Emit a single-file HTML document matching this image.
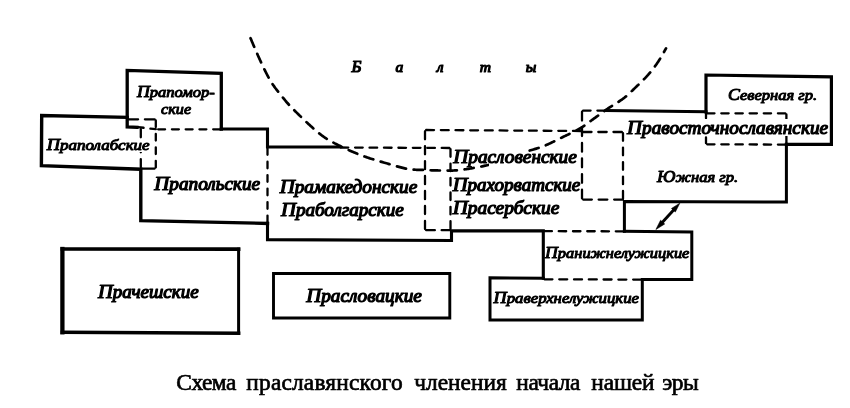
<!DOCTYPE html>
<html lang="ru">
<head>
<meta charset="utf-8">
<title>Схема праславянского членения начала нашей эры</title>
<style>
html,body{margin:0;padding:0;background:#fff;}
body{width:850px;height:408px;overflow:hidden;position:relative;}
svg{position:absolute;left:0;top:0;display:block;filter:grayscale(1);}
.s{fill:none;stroke:#000;stroke-width:3.1;stroke-linejoin:miter;stroke-linecap:square;}
.b{stroke-width:4.1;}
.d{fill:none;stroke:#000;stroke-width:2.3;stroke-linecap:round;stroke-linejoin:round;}
.a{stroke-width:2.7;}
.t{font-family:"Liberation Serif","DejaVu Serif",serif;font-style:italic;font-weight:normal;fill:#000;stroke:#000;stroke-width:1.2px;stroke-linejoin:round;}
.m{stroke-width:1.0px;}
.c{font-family:"Liberation Serif","DejaVu Serif",serif;fill:#000;stroke:#000;stroke-width:0.7px;stroke-linejoin:round;}
</style>
</head>
<body>
<svg width="850" height="408" viewBox="0 0 850 408">

<g>
<g>
<path class="s" d="M137,127.3 L127.2,127 L127.2,70.4 L221.3,73.4 L221.3,129" style="stroke-width:3.3"/>
<path class="s" d="M221.3,129 L267.5,129 L267.5,147 L339.5,147" style="stroke-width:3.1"/>
<path class="s" d="M127.2,117.3 L41.7,115.5 L41.4,165.6 L140.8,169.2 L140.8,220.6 L267.5,223.4" style="stroke-width:3.4"/>
<path class="s" d="M267.5,223.4 L267.5,239.6 L451.5,240.5 L451.5,230.9 L543.3,230.9 L543.3,278.2" style="stroke-width:3.1"/>
<path class="s" d="M543.3,278.2 L490,277.8 L490,319.9 L642.3,319.9 L642.3,279.4 L691.8,279.4 L691.8,232 L624.4,231.3" style="stroke-width:3"/>
<path class="s" d="M624.4,231.3 L624.4,201.4 L786.4,202 L786.4,144.3" style="stroke-width:3"/>
<path class="s" d="M786.4,144.3 L831.4,144.3 L831.4,76.8 L706,75 L706,111.8" style="stroke-width:3.2"/>
<path class="s" d="M706,111.8 L606,110.6" style="stroke-width:3"/>
<path class="s" d="M62.4,249 L62.4,332.3" style="stroke-width:4.3"/>
<path class="s" d="M62.4,249 L238.6,249.2" style="stroke-width:3.7"/>
<path class="s" d="M238.6,249.2 L238.6,333.2" style="stroke-width:3"/>
<path class="s" d="M62.4,332.3 L238.6,333.2" style="stroke-width:3.6"/>
<path class="s" d="M273.5,273.5 L449.8,273.5 L449.8,318 L273.5,318 L273.5,273.5" style="stroke-width:2.9"/>
<path class="d" d="M138.14,127.13L143.62,127.76M150.38,128.54L155.86,129.17M158.15,129.30L165.11,129.30M171.91,129.30L178.87,129.30M185.67,129.30L192.63,129.30M199.43,129.30L206.39,129.30M213.19,129.30L220.15,129.30"/>
<path class="d" d="M128.35,119.30L138.10,119.30M144.90,119.30L154.65,119.30M155.80,120.45L155.80,127.10M155.80,133.90L155.80,140.55M155.80,147.35L155.80,154.00M155.80,160.80L155.80,167.45M154.65,168.60L141.95,168.60"/>
<path class="d" d="M140.80,129.15L140.80,137.35M140.80,144.15L140.80,152.35M140.80,159.15L140.80,167.35"/>
<path class="d" d="M267.50,148.15L267.50,154.83M267.50,161.63L267.50,168.32M267.50,175.12L267.50,181.80M267.50,188.60L267.50,195.28M267.50,202.08L267.50,208.77M267.50,215.57L267.50,222.25"/>
<path class="d" d="M340.65,147.51L348.29,147.54M355.09,147.57L362.73,147.60M369.52,147.64L377.16,147.67M383.96,147.70L391.60,147.73M398.40,147.77L406.04,147.80M412.84,147.83L420.48,147.86M427.27,147.90L434.91,147.93M441.71,147.96L449.35,147.99M450.50,149.15L450.50,156.77M450.50,163.57L450.50,171.18M450.50,177.98L450.50,185.60M450.50,192.40L450.50,200.02M450.50,206.82L450.50,214.43M450.50,221.23L450.50,228.85"/>
<path class="d" d="M580.85,130.99L572.97,130.94M566.17,130.90L558.29,130.85M551.49,130.81L543.60,130.76M536.80,130.71L528.92,130.66M522.12,130.62L514.24,130.57M507.44,130.53L499.56,130.47M492.76,130.43L484.88,130.38M478.08,130.34L470.20,130.29M463.40,130.24L455.51,130.19M448.71,130.15L440.83,130.10M434.03,130.06L426.15,130.01M425.00,131.15L425.00,139.31M425.00,146.11L425.00,154.26M425.00,161.06L425.00,169.22M425.00,176.02L425.00,184.18M425.00,190.98L425.00,199.14M425.00,205.94L425.00,214.09M425.00,220.89L425.00,229.05M426.15,230.20L434.85,230.20M441.65,230.20L450.35,230.20"/>
<path class="d" d="M604.85,110.60L597.40,110.60M590.60,110.60L583.15,110.60M582.00,111.75L582.00,120.53M582.00,127.33L582.00,136.12M582.00,142.92L582.00,151.70M582.00,158.50L582.00,167.28M582.00,174.08L582.00,182.87M582.00,189.67L582.00,198.45M583.15,199.60L591.85,199.60M598.65,199.60L607.35,199.60M614.15,199.60L622.85,199.60"/>
<path class="d" d="M583.15,132.00L591.52,132.00M598.32,132.00L606.68,132.00M613.48,132.00L621.85,132.00M623.00,133.15L623.00,140.81M623.00,147.61L623.00,155.27M623.00,162.07L623.00,169.73M623.00,176.53L623.00,184.19M623.00,190.99L623.00,198.65"/>
<path class="d" d="M707.15,113.30L714.50,113.30M721.30,113.30L728.65,113.30M735.45,113.30L742.80,113.30M749.60,113.30L756.95,113.30M763.75,113.30L771.10,113.30M777.90,113.30L785.25,113.30M786.40,114.45L786.40,125.40M786.40,132.20L786.40,143.15"/>
<path class="d" d="M706.00,112.65L706.00,118.28M706.00,125.08L706.00,130.72M706.00,137.52L706.00,143.15M707.15,144.30L714.50,144.33M721.30,144.36L728.65,144.38M735.45,144.41L742.80,144.44M749.60,144.46L756.95,144.49M763.75,144.52L771.10,144.54M777.90,144.57L785.25,144.60"/>
<path class="d" d="M544.45,231.20L551.92,231.21M558.72,231.22L566.18,231.23M572.98,231.24L580.45,231.25M587.25,231.25L594.72,231.26M601.52,231.27L608.98,231.28M615.78,231.29L623.25,231.30"/>
<path class="d" d="M544.45,279.30L552.44,279.33M559.24,279.35L567.22,279.37M574.02,279.39L582.01,279.42M588.81,279.44L596.79,279.46M603.59,279.48L611.58,279.51M618.38,279.53L626.36,279.55M633.16,279.57L641.15,279.60"/>
<path class="d a" d="M250.53,38.24L250.93,39.16L251.32,40.08L251.71,41.00L252.10,41.92L252.49,42.84L252.88,43.76L253.28,44.68L253.67,45.60L254.06,46.52L254.18,46.80M257.24,53.86L257.64,54.78L258.05,55.69L258.45,56.60L258.86,57.52L259.28,58.43L259.69,59.34L260.11,60.24L260.54,61.15L260.96,62.06L261.08,62.33M264.38,69.29L264.82,70.19L265.26,71.09L265.70,71.98L266.15,72.87L266.60,73.77L267.06,74.65L267.53,75.54L268.00,76.42L268.47,77.30L268.62,77.57M272.59,84.16L273.15,84.99L273.72,85.81L274.30,86.63L274.89,87.43L275.48,88.24L276.09,89.03L276.69,89.83L277.31,90.62L277.93,91.40L278.11,91.64M282.92,97.65L283.55,98.43L284.18,99.20L284.82,99.97L285.46,100.74L286.11,101.50L286.76,102.26L287.42,103.01L288.08,103.76L288.75,104.51L288.95,104.73M294.28,110.28L294.99,110.99L295.70,111.69L296.41,112.40L297.12,113.10L297.84,113.80L298.55,114.50L299.27,115.20L299.98,115.90L300.70,116.60L300.92,116.80M306.49,122.12L307.22,122.80L307.95,123.49L308.68,124.17L309.42,124.84L310.15,125.52L310.89,126.19L311.63,126.86L312.38,127.53L313.12,128.20L313.35,128.40M319.22,133.38L320.00,134.00L320.79,134.61L321.59,135.22L322.39,135.81L323.20,136.40L324.01,136.98L324.84,137.55L325.67,138.11L326.50,138.66L326.76,138.82M333.43,142.66L334.31,143.12L335.20,143.58L336.10,144.03L336.99,144.48L337.88,144.93L338.77,145.38L339.67,145.83L340.56,146.28L341.45,146.73L341.72,146.86M348.70,150.12L349.61,150.53L350.53,150.93L351.45,151.32L352.37,151.72L353.29,152.10L354.21,152.49L355.14,152.87L356.06,153.25L356.99,153.62L357.27,153.73M364.47,156.47L365.41,156.81L366.35,157.14L367.30,157.46L368.24,157.78L369.19,158.10L370.14,158.41L371.09,158.71L372.05,159.02L373.00,159.32L373.29,159.41M380.66,161.62L381.62,161.90L382.58,162.17L383.55,162.45L384.51,162.73L385.47,163.00L386.43,163.28L387.39,163.55L388.35,163.83L389.31,164.10L389.60,164.19M396.99,166.34L397.96,166.62L398.92,166.89L399.88,167.16L400.85,167.42L401.81,167.67L402.78,167.91L403.76,168.15L404.73,168.37L405.71,168.57L406.00,168.63M413.63,169.64L414.63,169.70L415.63,169.75L416.63,169.79L417.63,169.82L418.63,169.84L419.63,169.87L420.63,169.89L421.63,169.92L422.63,169.95L422.93,169.96M430.62,170.27L431.62,170.30L432.62,170.34L433.62,170.37L434.62,170.39L435.62,170.42L436.62,170.44L437.62,170.46L438.62,170.48L439.62,170.49L439.92,170.49M447.62,170.55L448.62,170.56L449.62,170.57L450.62,170.56L451.62,170.55L452.62,170.53L453.62,170.49L454.61,170.45L455.61,170.39L456.61,170.32L456.91,170.30M464.56,169.41L465.55,169.27L466.54,169.12L467.52,168.97L468.51,168.82L469.50,168.66L470.49,168.50L471.47,168.33L472.46,168.17L473.44,167.99L473.74,167.94M481.31,166.51L482.28,166.31L483.26,166.10L484.24,165.89L485.22,165.68L486.19,165.46L487.17,165.23L488.14,164.99L489.11,164.75L490.08,164.50L490.37,164.43M497.76,162.26L498.71,161.96L499.66,161.65L500.61,161.33L501.56,161.01L502.50,160.69L503.45,160.37L504.40,160.05L505.34,159.73L506.29,159.40L506.57,159.30M513.77,156.58L514.70,156.21L515.63,155.84L516.56,155.46L517.49,155.09L518.41,154.72L519.34,154.34L520.27,153.97L521.20,153.61L522.13,153.24L522.41,153.14M529.68,150.58L530.63,150.29L531.59,150.01L532.55,149.72L533.51,149.44L534.47,149.17L535.43,148.89L536.39,148.60L537.35,148.31L538.30,148.02L538.59,147.93M545.80,145.25L546.72,144.85L547.64,144.45L548.55,144.04L549.46,143.62L550.36,143.19L551.27,142.77L552.17,142.34L553.07,141.90L553.97,141.46L554.24,141.33M561.14,137.91L562.03,137.47L562.93,137.02L563.83,136.58L564.73,136.15L565.63,135.71L566.53,135.28L567.43,134.85L568.34,134.42L569.24,134.00L569.51,133.87M576.42,130.48L577.31,130.01L578.19,129.53L579.06,129.04L579.93,128.54L580.78,128.03L581.63,127.50L582.47,126.96L583.30,126.40L584.12,125.83L584.37,125.66M590.54,121.06L591.35,120.47L592.16,119.88L592.97,119.30L593.79,118.72L594.60,118.13L595.40,117.54L596.21,116.95L597.02,116.36L597.83,115.77L598.07,115.60M604.31,111.09L605.13,110.51L605.94,109.93L606.76,109.36L607.58,108.79L608.41,108.22L609.24,107.66L610.07,107.11L610.91,106.57L611.76,106.03L612.01,105.87M618.53,101.78L619.37,101.24L620.21,100.69L621.04,100.13L621.86,99.56L622.68,98.98L623.48,98.39L624.28,97.79L625.06,97.17L625.84,96.53L626.07,96.34M631.75,91.15L632.47,90.45L633.18,89.75L633.89,89.05L634.61,88.35L635.32,87.65L636.04,86.96L636.77,86.27L637.49,85.58L638.22,84.89L638.43,84.68M643.95,79.31L644.65,78.60L645.35,77.88L646.04,77.15L646.72,76.42L647.39,75.68L648.06,74.94L648.71,74.18L649.36,73.42L650.01,72.66L650.20,72.43M654.93,66.35L655.52,65.55L656.10,64.73L656.68,63.92L657.25,63.10L657.82,62.27L658.37,61.44L658.92,60.60L659.45,59.76L659.98,58.90L660.13,58.65M663.98,51.98L664.47,51.11L664.96,50.23L665.45,49.36L665.94,48.49L666.00,48.40"/>
<rect x="489" y="149" width="35" height="18" fill="#fff"/>
<rect x="139" y="139" width="4" height="13" fill="#fff"/>
<rect x="704" y="119" width="4" height="16" fill="#fff"/>
<rect x="784.5" y="119" width="4" height="17" fill="#fff"/>
<path d="M675.43,208.01 L660.61,224.32" fill="none" stroke="#000" stroke-width="2.9"/>
<path d="M679.80,203.20 L675.34,211.98 L671.49,208.48 Z M655.90,229.50 L664.70,223.98 L660.55,220.22 Z" fill="#000" stroke="#000" stroke-width="0.6" stroke-linejoin="round"/>
</g>
<g>
<text class="t m" font-size="15.0" transform="translate(137.00,96.7) scale(1.0990,1)"><tspan font-size="16.2">П</tspan>рапомор-</text>
<text class="t m" font-size="15.0" transform="translate(161.10,114.2) scale(1.0790,1)">ские</text>
<text class="t m" font-size="15.0" transform="translate(46.64,150) scale(1.1361,1)"><tspan font-size="16.2">П</tspan>раполабские</text>
<text class="t" font-size="18.0" transform="translate(154.27,190) scale(1.0696,1)"><tspan font-size="19.44">П</tspan>рапольские</text>
<text class="t" font-size="18.0" transform="translate(279.67,193) scale(1.0720,1)"><tspan font-size="19.44">П</tspan>рамакедонские</text>
<text class="t" font-size="18.0" transform="translate(280.96,216.2) scale(1.0627,1)"><tspan font-size="19.44">П</tspan>раболгарские</text>
<text class="t" font-size="18.0" transform="translate(453.17,163) scale(1.0737,1)"><tspan font-size="19.44">П</tspan>расловенские</text>
<text class="t" font-size="18.0" transform="translate(452.66,191.4) scale(1.0585,1)"><tspan font-size="19.44">П</tspan>рахорватские</text>
<text class="t" font-size="18.0" transform="translate(452.68,214) scale(1.0780,1)"><tspan font-size="19.44">П</tspan>расербские</text>
<text class="t" font-size="18.0" transform="translate(627.07,133.8) scale(1.0699,1)"><tspan font-size="19.44">П</tspan>равосточнославянские</text>
<text class="t m" font-size="15.0" transform="translate(728.10,99.8) scale(1.1016,1)"><tspan font-size="16.2">С</tspan>еверная гр.</text>
<text class="t m" font-size="15.0" transform="translate(657.10,181.6) scale(1.1044,1)"><tspan font-size="16.2">Ю</tspan>жная гр.</text>
<text class="t m" font-size="15.0" transform="translate(545.09,257.8) scale(1.0928,1)"><tspan font-size="16.2">П</tspan>ранижнелужицкие</text>
<text class="t m" font-size="15.0" transform="translate(493.62,303.3) scale(1.1175,1)"><tspan font-size="16.2">П</tspan>раверхнелужицкие</text>
<text class="t" font-size="18.0" transform="translate(97.96,298.4) scale(1.0563,1)"><tspan font-size="19.44">П</tspan>рачешские</text>
<text class="t" font-size="18.0" transform="translate(306.17,302) scale(1.0695,1)"><tspan font-size="19.44">П</tspan>расловацкие</text>
<text class="t" font-size="15.6" y="72.1"><tspan x="351.40" font-size="16.85">Б</tspan><tspan x="395.40">а</tspan><tspan x="436.70">л</tspan><tspan x="479.75">т</tspan><tspan x="525.70">ы</tspan></text>
<text class="c" font-size="23.4" y="390.1"><tspan x="176.35" letter-spacing="-0.534">Схема</tspan> <tspan x="246.35" letter-spacing="0.176">праславянского</tspan> <tspan x="414.35" letter-spacing="-0.022">членения</tspan> <tspan x="516.35" letter-spacing="-0.477">начала</tspan> <tspan x="591.35" letter-spacing="-0.173">нашей</tspan> <tspan x="662.35" letter-spacing="-0.567">эры</tspan></text>
</g>
</g>
</svg>
</body>
</html>
